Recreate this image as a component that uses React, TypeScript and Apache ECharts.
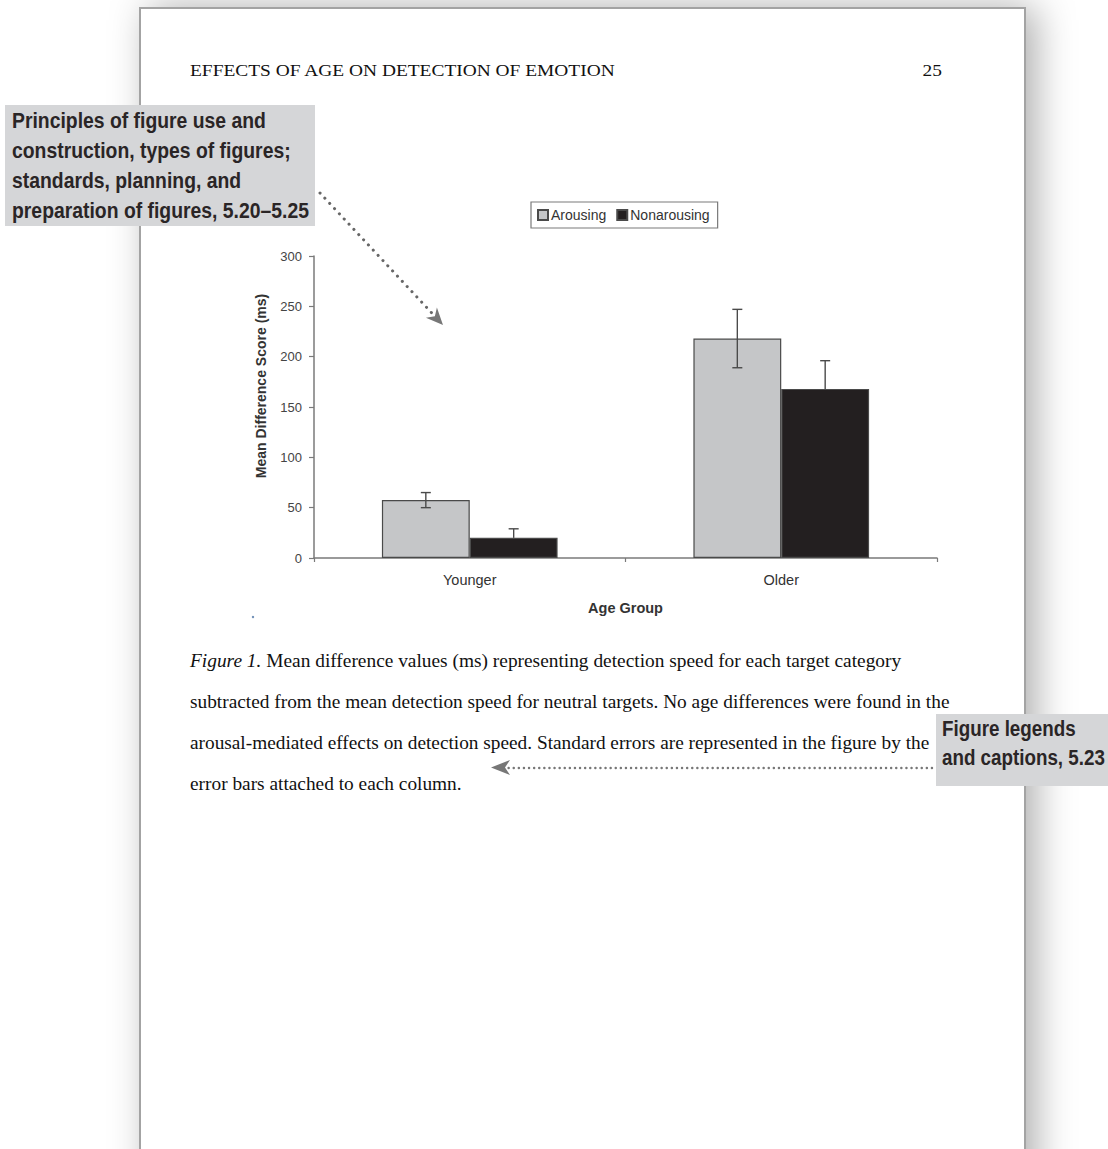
import React, { useEffect, useRef } from "react";
import * as echarts from "echarts";

const categories = ["Younger", "Older"];
const seriesNames = ["Arousing", "Nonarousing"];
const arousing = [57.5, 218];
const nonarousing = [20, 168];
const arousingErr = [7.5, 29];
const nonarousingErr = [9, 28];
const yTicks = [0, 50, 100, 150, 200, 250, 300];
const yAxisName = "Mean Difference Score (ms)";
const xAxisName = "Age Group";

const headerText = "EFFECTS OF AGE ON DETECTION OF EMOTION";
const pageNumber = "25";
const captionItalic = "Figure 1.";
const captionLines = [
  " Mean difference values (ms) representing detection speed for each target category",
  "subtracted from the mean detection speed for neutral targets. No age differences were found in the",
  "arousal-mediated effects on detection speed. Standard errors are represented in the figure by the",
  "error bars attached to each column.",
];
const callout1 = [
  "Principles of figure use and",
  "construction, types of figures;",
  "standards, planning, and",
  "preparation of figures, 5.20\u20135.25",
];
const callout2 = ["Figure legends", "and captions, 5.23"];

const GAP = 0.436;
const SERIF = "'Liberation Serif', 'DejaVu Serif', serif";
const SANS = "'Liberation Sans', Arial, sans-serif";

function measure(text: string, font: string): number {
  const c = document.createElement("canvas").getContext("2d");
  if (!c) return text.length * 8;
  c.font = font;
  return c.measureText(text).width;
}

export default function App() {
  const ref = useRef<HTMLDivElement>(null);
  useEffect(() => {
    if (!ref.current) return;
    const chart = echarts.init(ref.current, null, { renderer: "svg" });

    const errData: number[][] = [];
    categories.forEach((_, i) => {
      errData.push([i, arousing[i], arousingErr[i], 0]);
      errData.push([i, nonarousing[i], nonarousingErr[i], 1]);
    });

    const headFont = `17px ${SERIF}`;
    const headScale = 426 / measure(headerText, headFont);
    const capSize = 18;
    const capFont = `${capSize}px ${SERIF}`;
    const capItFont = `italic ${capSize}px ${SERIF}`;
    const capTargets = [712, 760, 740];
    const capScales = captionLines.slice(0, 3).map((t, i) => {
      const w = i === 0 ? measure(captionItalic, capItFont) + measure(t, capFont) : measure(t, capFont);
      return capTargets[i] / w;
    });
    const capAvg = capScales.reduce((a, b) => a + b, 0) / capScales.length;
    const boxFont = `bold 21.5px ${SANS}`;
    const box1Scale = 297 / measure(callout1[3], boxFont);
    const box2Scale = 163 / measure(callout2[1], boxFont);

    const a1s = [320, 193];
    const a1t = [443, 325];
    const dx = a1t[0] - a1s[0];
    const dy = a1t[1] - a1s[1];
    const len = Math.hypot(dx, dy);
    const ux = dx / len;
    const uy = dy / len;
    const px = -uy;
    const py = ux;
    const aL = 17;
    const aW = 7.5;
    const bcx = a1t[0] - aL * ux;
    const bcy = a1t[1] - aL * uy;
    const notch = [a1t[0] - aL * 0.7 * ux, a1t[1] - aL * 0.7 * uy];

    const graphic: any[] = [
      {
        type: "rect",
        z: -10,
        shape: { x: 140, y: 8, width: 885, height: 1200 },
        style: {
          fill: "#ffffff",
          stroke: "#a3a3a3",
          lineWidth: 2,
          shadowBlur: 38,
          shadowOffsetX: 10,
          shadowColor: "rgba(0,0,0,0.32)",
        },
      },
      {
        type: "text",
        x: 190,
        y: 70,
        scaleX: headScale,
        style: { text: headerText, font: headFont, fill: "#111", verticalAlign: "middle" },
      },
      {
        type: "text",
        x: 942,
        y: 70,
        scaleX: headScale,
        style: { text: pageNumber, font: headFont, fill: "#111", align: "right", verticalAlign: "middle" },
      },
      {
        type: "text",
        x: 261,
        y: 386,
        rotation: Math.PI / 2,
        style: {
          text: yAxisName,
          font: `bold 14px ${SANS}`,
          fill: "#333",
          align: "center",
          verticalAlign: "middle",
        },
      },
      ...captionLines.map((t, i) => ({
        type: "text",
        x: 190,
        y: 661 + i * 41,
        scaleX: i < 3 ? capScales[i] : capAvg,
        style: {
          text: i === 0 ? `{i|${captionItalic}}${t}` : t,
          font: capFont,
          fill: "#111",
          verticalAlign: "middle",
          rich: {
            i: { fontStyle: "italic", fontFamily: SERIF, fontSize: capSize, fill: "#111" },
          },
        },
      })),
      {
        type: "line",
        z: 50,
        shape: { x1: a1s[0], y1: a1s[1], x2: bcx + 2 * ux, y2: bcy + 2 * uy },
        style: { stroke: "#666", lineWidth: 3, lineDash: [0.1, 7], lineCap: "round" },
      },
      {
        type: "polygon",
        z: 50,
        shape: {
          points: [a1t, [bcx + aW * px, bcy + aW * py], notch, [bcx - aW * px, bcy - aW * py]],
        },
        style: { fill: "#777" },
      },
      {
        type: "line",
        z: 50,
        shape: { x1: 932, y1: 768, x2: 508, y2: 768 },
        style: { stroke: "#777", lineWidth: 2.4, lineDash: [0.1, 5], lineCap: "round" },
      },
      {
        type: "polygon",
        z: 50,
        shape: { points: [[491, 767.5], [510, 760], [505, 767.5], [510, 775]] },
        style: { fill: "#777" },
      },
      {
        type: "rect",
        z: 100,
        shape: { x: 5, y: 105, width: 310, height: 121 },
        style: { fill: "#d5d6d8" },
      },
      ...callout1.map((t, i) => ({
        type: "text",
        z: 101,
        x: 12,
        y: 120 + i * 30,
        scaleX: box1Scale,
        style: { text: t, font: boxFont, fill: "#2a2526", verticalAlign: "middle" },
      })),
      {
        type: "rect",
        z: 100,
        shape: { x: 936, y: 714, width: 172, height: 72 },
        style: { fill: "#d5d6d8" },
      },
      ...callout2.map((t, i) => ({
        type: "text",
        z: 101,
        x: 942,
        y: 729 + i * 29,
        scaleX: box2Scale,
        style: { text: t, font: boxFont, fill: "#2a2526", verticalAlign: "middle" },
      })),
      {
        type: "circle",
        shape: { cx: 253, cy: 617, r: 1.2 },
        style: { fill: "#6d8db5" },
      },
    ];

    chart.setOption({
      animation: false,
      textStyle: { fontFamily: SANS },
      legend: {
        show: true,
        selectedMode: false,
        left: 531,
        top: 202,
        orient: "horizontal",
        padding: [6, 8, 6, 6],
        itemGap: 10,
        itemWidth: 10,
        itemHeight: 10,
        borderColor: "#7a7a7a",
        borderWidth: 1.2,
        data: seriesNames.map((n) => ({ name: n, icon: "rect" })),
        textStyle: { fontFamily: SANS, fontSize: 14, color: "#333", padding: [0, 0, 0, -2] },
      },
      grid: { left: 314, right: 171, top: 256, bottom: 591, containLabel: false },
      xAxis: {
        type: "category",
        data: categories,
        name: xAxisName,
        nameLocation: "middle",
        nameGap: 42,
        nameTextStyle: { fontFamily: SANS, fontWeight: "bold", fontSize: 14.5, color: "#333" },
        axisLine: { show: true, lineStyle: { color: "#7a7a7a", width: 1.5 } },
        axisTick: { show: true, length: 4, lineStyle: { color: "#7a7a7a", width: 1.2 } },
        axisLabel: { fontFamily: SANS, fontSize: 14.5, color: "#333", margin: 14 },
      },
      yAxis: {
        type: "value",
        min: 0,
        max: 300,
        interval: 50,
        axisLine: { show: true, lineStyle: { color: "#7a7a7a", width: 1.5 } },
        axisTick: { show: true, length: 5, lineStyle: { color: "#7a7a7a", width: 1.2 } },
        axisLabel: {
          fontFamily: SANS,
          fontSize: 13,
          color: "#444",
          margin: 12,
          formatter: (v: number) => (yTicks.includes(v) ? String(v) : ""),
        },
        splitLine: { show: false },
      },
      series: [
        {
          name: seriesNames[0],
          type: "bar",
          data: arousing,
          barGap: "0%",
          barCategoryGap: `${GAP * 100}%`,
          itemStyle: { color: "#c5c6c8", borderColor: "#4a4a4a", borderWidth: 1.2 },
        },
        {
          name: seriesNames[1],
          type: "bar",
          data: nonarousing,
          barGap: "0%",
          barCategoryGap: `${GAP * 100}%`,
          itemStyle: { color: "#231f20", borderColor: "#4a4a4a", borderWidth: 1.2 },
        },
        {
          type: "custom",
          z: 5,
          data: errData,
          encode: { x: 0, y: 1 },
          renderItem: (params: any, api: any) => {
            const ci = api.value(0);
            const v = api.value(1);
            const e = api.value(2);
            const s = api.value(3);
            const catW = api.size([1, 0])[0];
            const bw = (catW * (1 - GAP)) / 2;
            const c = api.coord([ci, v]);
            const x = c[0] + (s === 0 ? -bw / 2 : bw / 2);
            const top = api.coord([ci, v + e])[1];
            const bot = api.coord([ci, v - e])[1];
            const cap = 5;
            const st = { stroke: "#4a4a4a", lineWidth: 1.4 };
            const children: any[] = [
              { type: "line", shape: { x1: x - cap, y1: top, x2: x + cap, y2: top }, style: st },
            ];
            if (s === 0) {
              children.push({ type: "line", shape: { x1: x, y1: top, x2: x, y2: bot }, style: st });
              children.push({ type: "line", shape: { x1: x - cap, y1: bot, x2: x + cap, y2: bot }, style: st });
            } else {
              // lower half is hidden behind the dark column
              children.push({ type: "line", shape: { x1: x, y1: top, x2: x, y2: c[1] }, style: st });
            }
            return { type: "group", children };
          },
        },
      ],
      graphic,
    });

    return () => chart.dispose();
  }, []);

  return (
    <div
      ref={ref}
      style={{ position: "absolute", left: 0, top: 0, width: 1108, height: 1149, background: "#fff" }}
    />
  );
}
